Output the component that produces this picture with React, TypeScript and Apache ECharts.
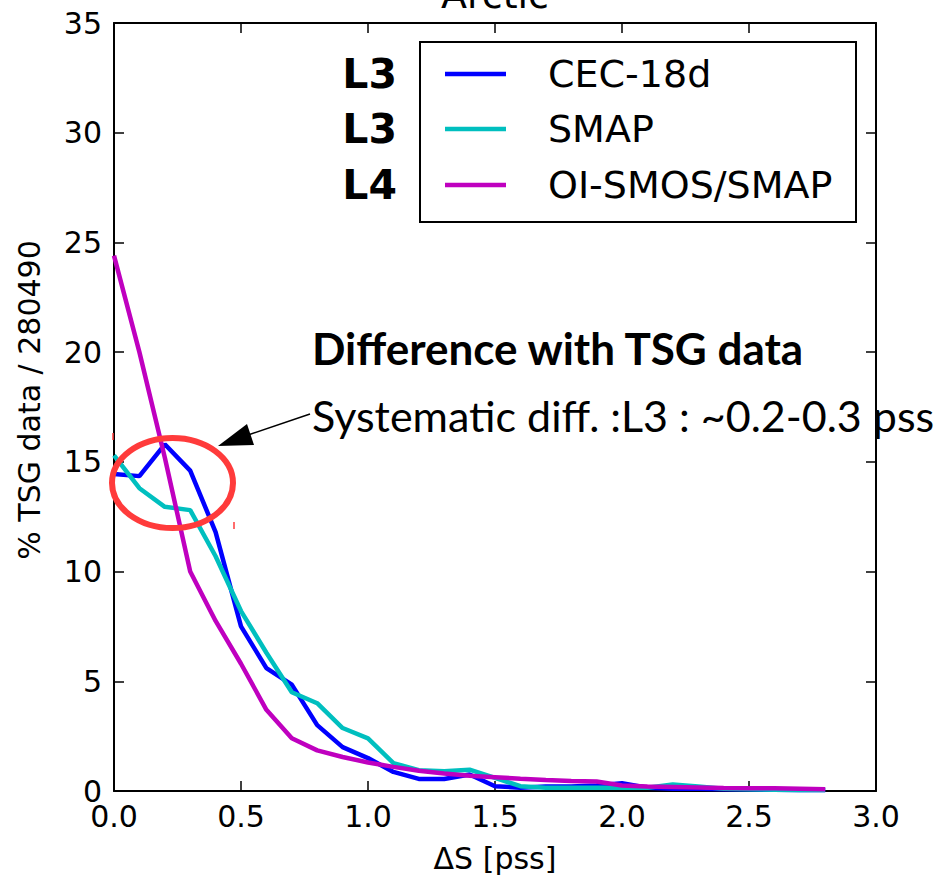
import React, { useEffect, useRef } from "react";
import * as echarts from "echarts";

const xValues = [0.0, 0.1, 0.2, 0.3, 0.4, 0.5, 0.6, 0.7, 0.8, 0.9, 1.0, 1.1, 1.2, 1.3, 1.4, 1.5, 1.6, 1.7, 1.8, 1.9, 2.0, 2.1, 2.2, 2.3, 2.4, 2.5, 2.6, 2.7, 2.8];
const cec18d = [14.45, 14.35, 15.8, 14.6, 11.8, 7.5, 5.6, 4.85, 3.0, 2.0, 1.5, 0.87, 0.55, 0.55, 0.75, 0.22, 0.15, 0.2, 0.2, 0.25, 0.35, 0.15, 0.1, 0.1, 0.08, 0.08, 0.06, 0.05, 0.04];
const smap = [15.3, 13.8, 12.95, 12.8, 10.7, 8.2, 6.3, 4.5, 4.0, 2.87, 2.4, 1.27, 0.95, 0.9, 0.97, 0.6, 0.22, 0.15, 0.15, 0.15, 0.15, 0.15, 0.3, 0.2, 0.1, 0.08, 0.06, 0.05, 0.04];
const oiSmosSmap = [24.4, 20.0, 15.2, 10.0, 7.75, 5.8, 3.7, 2.4, 1.85, 1.55, 1.3, 1.1, 0.92, 0.8, 0.7, 0.63, 0.56, 0.5, 0.46, 0.43, 0.25, 0.2, 0.18, 0.16, 0.14, 0.13, 0.12, 0.1, 0.08];

const seriesNames = ["CEC-18d", "SMAP", "OI-SMOS/SMAP"];
const levelLabels = ["L3", "L3", "L4"];
const seriesColors = ["#0000ff", "#00bfbf", "#bf00bf"];
const seriesValues = [cec18d, smap, oiSmosSmap];

const xMin = 0, xMax = 3, xInterval = 0.5;
const yMin = 0, yMax = 35, yInterval = 5;

const titleText = "Arctic";
const xAxisTitle = "\u0394S [pss]";
const yAxisTitle = "% TSG data / 280490";
const noteTitle = "Difference with TSG data";
const noteText = "Systematic diff. :L3 : ~0.2-0.3 pss";

const FONT = '"DejaVu Sans", sans-serif';
const LATO = 'Lato, "Open Sans", sans-serif';

export default function App() {
  const ref = useRef<HTMLDivElement>(null);
  useEffect(() => {
    if (!ref.current) return;
    const chart = echarts.init(ref.current, undefined, { renderer: "svg" });
    const G = { left: 114, top: 23, width: 762, height: 768 };

    const axisLine = { show: true, onZero: false, lineStyle: { color: "#000", width: 2 } };
    const axisTick = { show: true, inside: true, length: 10, lineStyle: { color: "#000", width: 1.5 } };

    const legendRowsY = [74, 129, 185];
    const graphic: any[] = [
      {
        type: "text", x: 495, y: 14, z: 5,
        style: { text: titleText, font: `38px ${FONT}`, fill: "#000", align: "center", verticalAlign: "bottom" },
      },
      {
        type: "text", x: 495, y: 858, z: 5,
        style: { text: xAxisTitle, font: `30px ${FONT}`, fill: "#000", align: "center", verticalAlign: "middle" },
      },
      {
        type: "text", x: 29, y: 400, rotation: Math.PI / 2, z: 5,
        style: { text: yAxisTitle, font: `30px ${FONT}`, fill: "#000", align: "center", verticalAlign: "middle" },
      },
      {
        type: "rect", z: 5,
        shape: { x: 420, y: 42, width: 436, height: 180 },
        style: { fill: "#fff", stroke: "#000", lineWidth: 2 },
      },
      {
        type: "text", x: 312, y: 348, z: 5,
        style: { text: noteTitle, font: `bold 44px ${LATO}`, fill: "#000", align: "left", verticalAlign: "middle" },
      },
      {
        type: "text", x: 312, y: 415, z: 5,
        style: { text: noteText, font: `43px ${LATO}`, fill: "#000", align: "left", verticalAlign: "middle" },
      },
      {
        type: "line", z: 5, silent: true,
        shape: { x1: 310, y1: 414, x2: 248, y2: 435 },
        style: { stroke: "#000", lineWidth: 1.5 },
      },
      {
        type: "polygon", z: 5, silent: true,
        shape: { points: [[218, 446], [247, 424], [254, 445]] },
        style: { fill: "#000" },
      },
      {
        type: "line", z: 6, silent: true,
        shape: { x1: 876, y1: 395, x2: 876, y2: 440 },
        style: { stroke: "#000", lineWidth: 2 },
      },
      {
        type: "ellipse", z: 20, silent: true,
        shape: { cx: 172.5, cy: 483, rx: 60.5, ry: 45 },
        style: { fill: "transparent", stroke: "#ff3b3b", lineWidth: 6 },
      },
      {
        type: "line", z: 20, silent: true,
        shape: { x1: 113, y1: 433, x2: 113, y2: 440 },
        style: { stroke: "#ff3b3b", lineWidth: 1.5 },
      },
      {
        type: "line", z: 20, silent: true,
        shape: { x1: 234, y1: 522, x2: 234, y2: 529 },
        style: { stroke: "#ff3b3b", lineWidth: 1.5 },
      },
    ];
    seriesNames.forEach((name, i) => {
      const y = legendRowsY[i];
      graphic.push({
        type: "line", z: 6,
        shape: { x1: 445, y1: y, x2: 506, y2: y },
        style: { stroke: seriesColors[i], lineWidth: 4.5 },
      });
      graphic.push({
        type: "text", x: 548, y, z: 6,
        style: { text: name, font: `38px ${FONT}`, fill: "#000", align: "left", verticalAlign: "middle" },
      });
      graphic.push({
        type: "text", x: 397, y, z: 6,
        style: { text: levelLabels[i], font: `bold 41px ${FONT}`, fill: "#000", align: "right", verticalAlign: "middle" },
      });
    });

    chart.setOption({
      animation: false,
      backgroundColor: "#fff",
      grid: { ...G, containLabel: false },
      xAxis: [
        {
          type: "value", position: "bottom", min: xMin, max: xMax, interval: xInterval,
          axisLine, axisTick, splitLine: { show: false },
          axisLabel: {
            show: true, margin: 10, color: "#000", fontFamily: FONT, fontSize: 30,
            formatter: (v: number) => v.toFixed(1),
          },
        },
        {
          type: "value", position: "top", min: xMin, max: xMax, interval: xInterval,
          axisLine, axisTick, splitLine: { show: false }, axisLabel: { show: false },
        },
      ],
      yAxis: [
        {
          type: "value", position: "left", min: yMin, max: yMax, interval: yInterval,
          axisLine, axisTick, splitLine: { show: false },
          axisLabel: { show: true, margin: 12, color: "#000", fontFamily: FONT, fontSize: 30 },
        },
        {
          type: "value", position: "right", min: yMin, max: yMax, interval: yInterval,
          axisLine, axisTick, splitLine: { show: false }, axisLabel: { show: false },
        },
      ],
      series: seriesNames.map((name, i) => ({
        name,
        type: "line",
        xAxisIndex: 0,
        yAxisIndex: 0,
        showSymbol: false,
        symbol: "none",
        clip: true,
        lineStyle: { color: seriesColors[i], width: 4.5 },
        data: xValues.map((x, j) => [x, seriesValues[i][j]]),
      })),
      graphic,
    });
    return () => chart.dispose();
  }, []);
  return (
    <div
      ref={ref}
      style={{ position: "absolute", left: 0, top: 0, width: 946, height: 881 }}
    />
  );
}
